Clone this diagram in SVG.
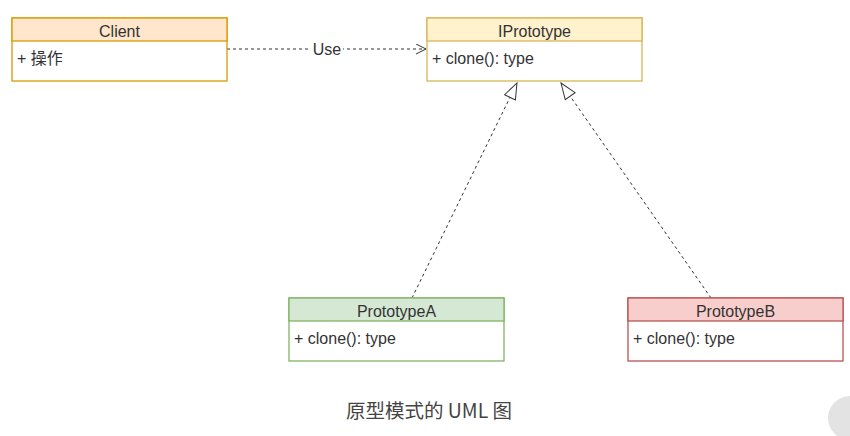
<svg xmlns="http://www.w3.org/2000/svg" width="850" height="436" viewBox="0 0 850 436">
<style>
text{font-family:"Liberation Sans","Noto Sans CJK SC",Arial,sans-serif;font-size:16px;fill:#333}
.h{text-anchor:middle}
.box{fill:#fff;stroke-width:1.3}
.conn{fill:none;stroke:#333;stroke-width:1;stroke-dasharray:3 3}
.cap{font-family:"Noto Sans CJK SC","Noto Sans",sans-serif;font-size:19.5px;fill:#444;text-anchor:middle}
</style>
<defs>
<marker id="open" markerWidth="12" markerHeight="12" refX="10" refY="5" orient="auto" markerUnits="userSpaceOnUse"><path d="M0,0 L10,5 L0,10" fill="none" stroke="#333" stroke-width="1"/></marker>
<marker id="tri" markerWidth="20" markerHeight="20" refX="17" refY="7" orient="auto" markerUnits="userSpaceOnUse"><path d="M1,1 L17,7 L1,13 Z" fill="#fff" stroke="#333" stroke-width="1"/></marker>
</defs>
<rect width="850" height="436" fill="#fff"/>
<g id="connectors">
<path class="conn" d="M227,49 L426,49" marker-end="url(#open)"/>
<rect x="311" y="40" width="32" height="18" fill="#fff"/>
<text x="327" y="55" class="h">Use</text>
<path class="conn" d="M412,298 L517,83" marker-end="url(#tri)"/>
<path class="conn" d="M711,298 L561,83" marker-end="url(#tri)"/>
</g>
<g id="client">
<rect class="box" x="12" y="18" width="215" height="63" stroke="#d79b00"/>
<rect x="12" y="18" width="215" height="23" fill="#ffe6cc" stroke="#d79b00" stroke-width="1.3"/>
<text x="119.5" y="37" class="h">Client</text>
<text x="17" y="64">+ 操作</text>
</g>
<g id="iprototype">
<rect class="box" x="427" y="18" width="215" height="63" stroke="#d6b656"/>
<rect x="427" y="18" width="215" height="23" fill="#fff2cc" stroke="#d6b656" stroke-width="1.3"/>
<text x="534.5" y="37" class="h">IPrototype</text>
<text x="432" y="64">+ clone(): type</text>
</g>
<g id="prototypeA">
<rect class="box" x="289" y="298" width="215" height="63" stroke="#82b366"/>
<rect x="289" y="298" width="215" height="23" fill="#d5e8d4" stroke="#82b366" stroke-width="1.3"/>
<text x="396.5" y="317" class="h">PrototypeA</text>
<text x="294" y="344">+ clone(): type</text>
</g>
<g id="prototypeB">
<rect class="box" x="628" y="298" width="215" height="63" stroke="#b85450"/>
<rect x="628" y="298" width="215" height="23" fill="#f8cecc" stroke="#b85450" stroke-width="1.3"/>
<text x="735.5" y="317" class="h">PrototypeB</text>
<text x="633" y="344">+ clone(): type</text>
</g>
<text x="429" y="418" class="cap">原型模式的 UML 图</text>
<circle cx="850" cy="418" r="22" fill="#e3e3e3"/>
</svg>
